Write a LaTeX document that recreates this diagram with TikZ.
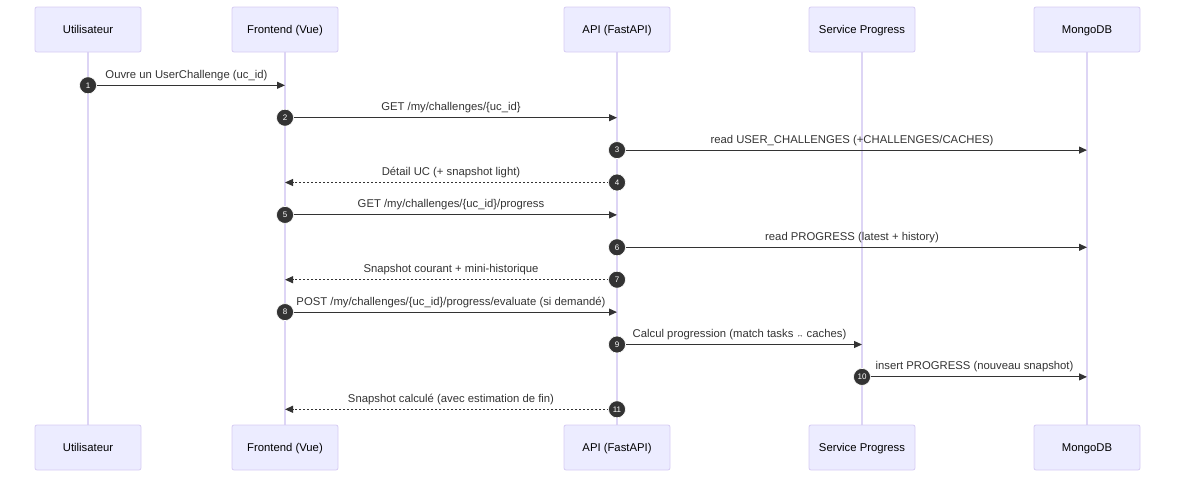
\documentclass[tikz,border=0pt]{standalone}
\usepackage{fontspec}
\setmainfont{Liberation Sans}
\usetikzlibrary{arrows.meta,positioning}
\definecolor{actorfill}{RGB}{236,236,255}
\definecolor{actorline}{RGB}{214,204,243}
\definecolor{lifecol}{RGB}{221,213,245}
\definecolor{ink}{RGB}{51,51,51}
\tikzset{
  actor/.style={draw=actorline, fill=actorfill, line width=0.8pt, rounded corners=2pt,
    minimum width=106pt, minimum height=45pt, inner sep=0pt, text=black,
    text height=8.1pt, text depth=0pt,
    font=\fontsize{11.3}{13}\selectfont},
  lifeline/.style={draw=lifecol, line width=1.2pt},
  msg/.style={draw=ink, line width=1.1pt, -{Triangle[length=8pt,width=7pt]}},
  reply/.style={msg, dash pattern=on 2pt off 2pt},
  msglabel/.style={anchor=base, yshift=7pt, inner sep=0pt, text=ink,
    font=\fontsize{11.3}{13}\selectfont},
  stepnum/.style={circle, fill=ink, draw=white, line width=0.6pt, minimum size=17pt,
    inner sep=0pt, text=white, font=\fontsize{8}{9}\selectfont}
}

\begin{document}
\begin{tikzpicture}[x=1pt,y=-1pt]
	\useasboundingbox (0,0) rectangle (1184,482);
	\newcommand \posU{88}
	\newcommand \posF{285}
	\newcommand \posA{617}
	\newcommand \posS{862}
	\newcommand \posM{1087}
	\newcommand \firstmsg{85.3}
	\newcommand \msgspace{32.4}

%% actors and lifelines
\foreach \n/\x/\t in {user/\posU/Utilisateur, front/\posF/{Frontend (Vue)}, api/\posA/{API (FastAPI)}, prog/\posS/{Service Progress}, mongo/\posM/MongoDB}
{
	\draw[lifeline] (\x,52) -- (\x,425);
	\node[actor] (\n-top) at (\x,29.5) {\t};
	\node[actor] (\n-bot) at (\x,447.5) {\t};
}

%% message end points
\foreach \i/\a/\b in {1/\posU/\posF, 2/\posF/\posA, 3/\posA/\posM, 4/\posA/\posF, 5/\posF/\posA, 6/\posA/\posM, 7/\posA/\posF, 8/\posF/\posA, 9/\posA/\posS, 10/\posS/\posM, 11/\posA/\posF}
{
	\coordinate (from\i) at (\a,{\firstmsg+(\i-1)*\msgspace});
	\coordinate (to\i) at (\b,{\firstmsg+(\i-1)*\msgspace});
}

\draw[msg] (from1) -- node[msglabel]{Ouvre un UserChallenge (uc\_id)} (to1);
\draw[msg] (from2) -- node[msglabel]{GET /my/challenges/\{uc\_id\}} (to2);
\draw[msg] (from3) -- node[msglabel]{read USER\_CHALLENGES (+CHALLENGES/CACHES)} (to3);
\draw[reply] (from4) -- node[msglabel]{Détail UC (+ snapshot light)} (to4);
\draw[msg] (from5) -- node[msglabel]{GET /my/challenges/\{uc\_id\}/progress} (to5);
\draw[msg] (from6) -- node[msglabel]{read PROGRESS (latest + history)} (to6);
\draw[reply] (from7) -- node[msglabel]{Snapshot courant + mini-historique} (to7);
\draw[msg] (from8) -- node[msglabel]{POST /my/challenges/\{uc\_id\}/progress/evaluate (si demandé)} (to8);
\draw[msg] (from9) -- node[msglabel]{Calcul progression (match tasks {\fontsize{7}{8}\selectfont ↔} caches)} (to9);
\draw[msg] (from10) -- node[msglabel]{insert PROGRESS (nouveau snapshot)} (to10);
\draw[reply] (from11) -- node[msglabel]{Snapshot calculé (avec estimation de fin)} (to11);

%% sequence numbers
\foreach \i in {1,...,11}
{
	\node[stepnum] (num\i) at (from\i) {\i};
}
\end{tikzpicture}
\end{document}
